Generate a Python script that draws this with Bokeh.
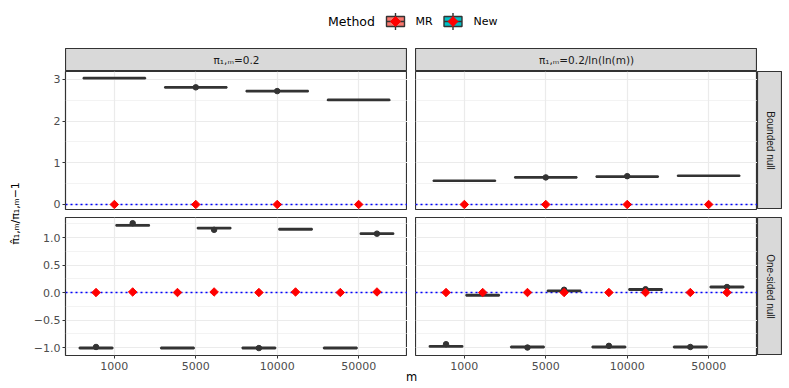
import numpy as np
from bokeh.plotting import figure
from bokeh.models import (FactorRange, Range1d, FixedTicker, LinearAxis,
                          CategoricalAxis, Span, ColumnDataSource, Spacer)
from bokeh.layouts import row, column
from bokeh.transform import dodge
from bokeh.core.properties import value
from bokeh.embed import file_html
from bokeh.resources import INLINE

FONT = "DejaVu Sans"
VFONT = "Liberation Sans"
BOXLINE = "#333333"

# ---------------- data ----------------
m_levels = ["1000", "5000", "10000", "50000"]
col_labels = ["π₁,ₘ=0.2", "π₁,ₘ=0.2/ln(ln(m))"]
row_labels = ["Bounded null", "One-sided null"]
methods = ["MR", "New"]
method_colors = ["#F8766D", "#00BFC4"]
y_title = "π̂₁,ₘ/π₁,ₘ−1"
x_title = "m"

# Bounded null: one box per m
bnd_p02_med = [3.03, 2.81, 2.72, 2.51]
bnd_p02_mean = [0.0, 0.0, 0.0, 0.0]
bnd_p02_out_m = ["5000", "10000"]
bnd_p02_out_v = [2.81, 2.72]

bnd_lnln_med = [0.57, 0.65, 0.67, 0.69]
bnd_lnln_mean = [0.0, 0.0, 0.0, 0.0]
bnd_lnln_out_m = ["5000", "10000"]
bnd_lnln_out_v = [0.65, 0.68]

# One-sided null: MR and New side by side
one_p02_mr_med = [-1.01, -1.01, -1.01, -1.01]
one_p02_mr_mean = [0.0, 0.0, 0.0, 0.0]
one_p02_mr_out_m = ["1000", "10000"]
one_p02_mr_out_v = [-0.99, -1.01]
one_p02_new_med = [1.22, 1.17, 1.15, 1.07]
one_p02_new_mean = [0.01, 0.01, 0.01, 0.01]
one_p02_new_out_m = ["1000", "5000", "50000"]
one_p02_new_out_v = [1.26, 1.14, 1.07]

one_lnln_mr_med = [-0.98, -0.99, -0.99, -0.99]
one_lnln_mr_mean = [0.0, 0.0, 0.0, 0.0]
one_lnln_mr_out_m = ["1000", "5000", "10000", "50000"]
one_lnln_mr_out_v = [-0.94, -1.00, -0.97, -0.99]
one_lnln_new_med = [-0.05, 0.03, 0.055, 0.10]
one_lnln_new_mean = [0.0, 0.0, 0.0, 0.0]
one_lnln_new_out_m = ["5000", "10000", "50000"]
one_lnln_new_out_v = [0.05, 0.06, 0.10]

top_ticks = [0, 1, 2, 3]
top_minor = [0.5, 1.5, 2.5]
top_labels = ["0", "1", "2", "3"]
bot_ticks = [-1.0, -0.5, 0.0, 0.5, 1.0]
bot_minor = [-0.75, -0.25, 0.25, 0.75, 1.25]
bot_labels = ["−1.0", "−0.5", "0.0", "0.5", "1.0"]

# ---------------- layout constants ----------------
FW, FH = 342, 138
LEFTB = 35
BOTB = 19
TOPB = 3
BOX_HALF = 0.01


def plain_fig(width, height, xr, yr, **kw):
    p = figure(width=width, height=height, x_range=xr, y_range=yr,
               output_backend="svg", toolbar_location=None,
               x_axis_location=None, y_axis_location=None, min_border=0, **kw)
    p.grid.visible = False
    p.outline_line_color = None
    p.background_fill_color = "white"
    p.border_fill_color = "white"
    return p


def strip_fig(width, height, text, angle=0.0, size="10.5px", font=FONT):
    s = plain_fig(width, height, Range1d(0, 1), Range1d(0, 1))
    s.background_fill_color = "#D9D9D9"
    s.outline_line_color = BOXLINE
    s.outline_line_width = 1.2
    s.text(x=[0.5], y=[0.5], text=[text], angle=angle, text_align="center",
           text_baseline="middle", text_font=value(font), text_font_size=size,
           text_color="#1A1A1A")
    return s


def panel(yr, ticks, minors, labels, left_axis, bottom_axis, series):
    xr = FactorRange(factors=m_levels, range_padding=0.1, range_padding_units="absolute")
    width = FW + (LEFTB if left_axis else 0)
    bb = BOTB if bottom_axis else TOPB
    height = FH + bb
    p = figure(width=width, height=height, x_range=xr, y_range=yr,
               output_backend="svg", toolbar_location=None,
               x_axis_location=None, y_axis_location=None, min_border=0,
               min_border_left=(LEFTB if left_axis else 0),
               min_border_bottom=bb)
    p.background_fill_color = "white"
    p.border_fill_color = "white"
    p.outline_line_color = BOXLINE
    p.outline_line_width = 1.2
    p.xgrid.grid_line_color = "#EBEBEB"
    p.xgrid.grid_line_width = 1.2
    p.ygrid.ticker = FixedTicker(ticks=ticks, minor_ticks=minors)
    p.ygrid.grid_line_color = "#EBEBEB"
    p.ygrid.grid_line_width = 1.2
    p.ygrid.minor_grid_line_color = "#EBEBEB"
    p.ygrid.minor_grid_line_width = 0.6
    if left_axis:
        ax = LinearAxis(ticker=FixedTicker(ticks=ticks),
                        major_label_overrides={t: l for t, l in zip(ticks, labels)})
        ax.axis_line_color = None
        ax.major_tick_line_color = BOXLINE
        ax.major_tick_out = 3
        ax.major_tick_in = 0
        ax.minor_tick_line_color = None
        ax.major_label_standoff = 2
        ax.major_label_text_font = FONT
        ax.major_label_text_font_size = "11px"
        ax.major_label_text_color = "#4D4D4D"
        p.add_layout(ax, "left")
    if bottom_axis:
        bx = CategoricalAxis()
        bx.axis_line_color = None
        bx.major_tick_line_color = BOXLINE
        bx.major_tick_out = 3
        bx.major_tick_in = 0
        bx.major_label_standoff = 3
        bx.major_label_text_font = FONT
        bx.major_label_text_font_size = "11px"
        bx.major_label_text_color = "#4D4D4D"
        p.add_layout(bx, "below")

    p.add_layout(Span(location=0, dimension="width", line_color="blue",
                      line_dash="2 3", line_width=1.5, level="underlay"))

    srcs = []
    for (offset, bw, med, mean, out_m, out_v, color) in series:
        src = ColumnDataSource(dict(m=m_levels,
                                    lo=[v - BOX_HALF for v in med],
                                    hi=[v + BOX_HALF for v in med],
                                    mean=mean))
        p.vbar(x=dodge("m", offset, range=xr), width=bw, bottom="lo", top="hi",
               source=src, fill_color=color, line_color=BOXLINE, line_width=1.8)
        if out_m:
            osrc = ColumnDataSource(dict(m=out_m, v=out_v))
            p.scatter(x=dodge("m", offset, range=xr), y="v", source=osrc,
                      marker="circle", size=5.5, fill_color=BOXLINE, line_color=BOXLINE)
        srcs.append((offset, src))
    for offset, src in srcs:
        p.scatter(x=dodge("m", offset, range=xr), y="mean", source=src,
                  marker="square", angle=np.pi / 4, size=6, fill_color="red",
                  line_color="red")
    return p


top_yr = lambda: Range1d(-0.12, 3.19)
bot_yr = lambda: Range1d(-1.145, 1.364)

DW = 0.225
BW1, BW2 = 0.76, 0.405

pTL = panel(top_yr(), top_ticks, top_minor, top_labels, True, False,
            [(0.0, BW1, bnd_p02_med, bnd_p02_mean, bnd_p02_out_m, bnd_p02_out_v, method_colors[0])])
pTR = panel(top_yr(), top_ticks, top_minor, top_labels, False, False,
            [(0.0, BW1, bnd_lnln_med, bnd_lnln_mean, bnd_lnln_out_m, bnd_lnln_out_v, method_colors[0])])
pBL = panel(bot_yr(), bot_ticks, bot_minor, bot_labels, True, True,
            [(-DW, BW2, one_p02_mr_med, one_p02_mr_mean, one_p02_mr_out_m, one_p02_mr_out_v, method_colors[0]),
             (DW, BW2, one_p02_new_med, one_p02_new_mean, one_p02_new_out_m, one_p02_new_out_v, method_colors[1])])
pBR = panel(bot_yr(), bot_ticks, bot_minor, bot_labels, False, True,
            [(-DW, BW2, one_lnln_mr_med, one_lnln_mr_mean, one_lnln_mr_out_m, one_lnln_mr_out_v, method_colors[0]),
             (DW, BW2, one_lnln_new_med, one_lnln_new_mean, one_lnln_new_out_m, one_lnln_new_out_v, method_colors[1])])

# strips
sA = strip_fig(FW, 23, col_labels[0])
sB = strip_fig(FW, 23, col_labels[1])
r1 = strip_fig(25, FH, row_labels[0], angle=-np.pi / 2, size="10px", font=VFONT)
r2 = strip_fig(25, FH, row_labels[1], angle=-np.pi / 2, size="10px", font=VFONT)

# legend
TOTW = 774
leg = plain_fig(TOTW, 40, Range1d(0, TOTW), Range1d(40, 0))
leg.text(x=[343], y=[13], text=["Method"], text_align="center", text_baseline="middle",
         text_font=value(FONT), text_font_size="12.5px", text_color="black")
key_cx = [387, 444.5]
key_tx = [407, 465]
for cx, tx, name, col in zip(key_cx, key_tx, methods, method_colors):
    leg.segment(x0=[cx, cx], y0=[4.5, 18], x1=[cx, cx], y1=[8, 21.5], line_color=BOXLINE, line_width=1.4)
    leg.quad(left=[cx - 9], right=[cx + 9], top=[8], bottom=[18], fill_color=col,
             line_color=BOXLINE, line_width=1.4)
    leg.segment(x0=[cx - 9], y0=[13], x1=[cx + 9], y1=[13], line_color=BOXLINE, line_width=1.4)
    leg.scatter(x=[cx], y=[13], marker="square", angle=np.pi / 4, size=7,
                fill_color="red", line_color="red")
    leg.text(x=[tx], y=[13], text=[name], text_align="left", text_baseline="middle",
             text_font=value(FONT), text_font_size="11px", text_color="black")

# y-axis title
YH = 23 + (FH + TOPB) + (8 - TOPB) + (FH + BOTB)
ylab = plain_fig(22, YH, Range1d(0, 22), Range1d(YH, 0))
ylab.text(x=[7], y=[165], text=[y_title], angle=np.pi / 2, text_align="center",
          text_baseline="middle", text_font=value(FONT), text_font_size="11px",
          text_color="black")

# x-axis title (pulled up slightly so it sits just under the tick labels)
xlab = plain_fig(TOTW, 20, Range1d(0, TOTW), Range1d(20, 0), margin=(-8, 0, 0, 0))
xlab.background_fill_color = None
xlab.border_fill_color = None
xlab.text(x=[403], y=[10], text=[x_title], text_align="center", text_baseline="middle",
          text_font=value(FONT), text_font_size="11.5px", text_color="black")

grid = column(
    row(Spacer(width=LEFTB, height=23), sA, Spacer(width=8, height=23), sB),
    row(pTL, Spacer(width=8, height=FH + TOPB), pTR, column(r1, Spacer(width=25, height=TOPB))),
    Spacer(width=10, height=8 - TOPB),
    row(pBL, Spacer(width=8, height=FH + BOTB), pBR, column(r2, Spacer(width=25, height=BOTB))),
)
content = column(leg, row(ylab, grid), xlab)
layout = column(Spacer(width=10, height=8), row(Spacer(width=8, height=10), content))

open("out.html", "w").write(file_html(layout, INLINE))
